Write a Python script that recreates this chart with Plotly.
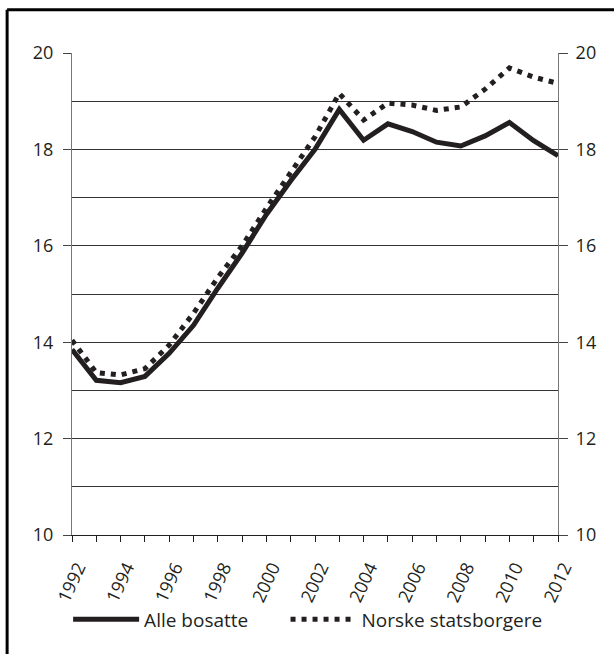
import plotly.graph_objects as go

years = list(range(1992, 2013))
alle_bosatte = [13.85, 13.21, 13.16, 13.29, 13.77, 14.35, 15.12, 15.85, 16.65,
                17.35, 18.0, 18.83, 18.19, 18.53, 18.37, 18.15, 18.07, 18.28,
                18.56, 18.18, 17.87]
norske = [14.04, 13.37, 13.32, 13.45, 13.94, 14.6, 15.34, 16.0, 16.78, 17.51,
          18.26, 19.16, 18.61, 18.96, 18.92, 18.81, 18.88, 19.25, 19.69, 19.5,
          19.37]
x_ticks = list(range(1992, 2013, 2))
y_ticks = list(range(10, 21, 2))

font = "Open Sans"
ink = "#231f20"

fig = go.Figure()
fig.add_trace(go.Scatter(x=years, y=alle_bosatte, mode="lines", name="Alle bosatte",
                         legend="legend", line=dict(color=ink, width=5)))
fig.add_trace(go.Scatter(x=years, y=norske, mode="lines", name="Norske statsborgere",
                         legend="legend2", line=dict(color=ink, width=5, dash="5px,6px")))
fig.add_trace(go.Scatter(x=years, y=norske, yaxis="y2", mode="lines", showlegend=False,
                         line=dict(width=0), hoverinfo="skip"))

legend_common = dict(orientation="h", xanchor="left", y=-0.175, yanchor="middle",
                     bgcolor="rgba(0,0,0,0)", itemwidth=66,
                     font=dict(size=19, color=ink))

fig.update_layout(
    width=614, height=654,
    margin=dict(l=72, r=56, t=53, b=119),
    paper_bgcolor="white", plot_bgcolor="white",
    font=dict(family=font, size=18, color=ink),
    showlegend=True,
    legend=dict(x=-0.008, **legend_common),
    legend2=dict(x=0.4394, **legend_common),
    xaxis=dict(range=[1992, 2012], tickvals=x_ticks, tickangle=-65,
               ticks="outside", ticklen=6, tickcolor=ink, showgrid=False,
               showline=True, linecolor=ink, linewidth=1, zeroline=False,
               ticklabelshift=6, ticklabelstandoff=8,
               minor=dict(dtick=1, ticks="outside", ticklen=6, tickcolor=ink)),
    yaxis=dict(range=[10, 20], tickvals=y_ticks, ticks="outside", ticklen=8,
               tickcolor="#444", showline=True, linecolor="#777", linewidth=1,
               showgrid=True, gridcolor="#333", gridwidth=1, zeroline=False,
               ticklabelstandoff=6,
               minor=dict(dtick=1, showgrid=True, gridcolor="#333", gridwidth=1)),
    yaxis2=dict(range=[10, 20], tickvals=y_ticks, overlaying="y", side="right",
                ticks="outside", ticklen=9, tickcolor="#444", showline=True,
                linecolor="#777", linewidth=1, showgrid=False, zeroline=False,
                ticklabelstandoff=4),
)

fig.add_shape(type="line", xref="paper", yref="paper", x0=-0.1335, x1=1.2,
              y0=1.0895, y1=1.0895, line=dict(color="black", width=3))
fig.add_shape(type="line", xref="paper", yref="paper", x0=-0.1335, x1=-0.1335,
              y0=1.0895, y1=-0.3, line=dict(color="black", width=3))

fig.write_html("out.html", config={"displayModeBar": False},
               post_script="document.body.style.margin='0';")
